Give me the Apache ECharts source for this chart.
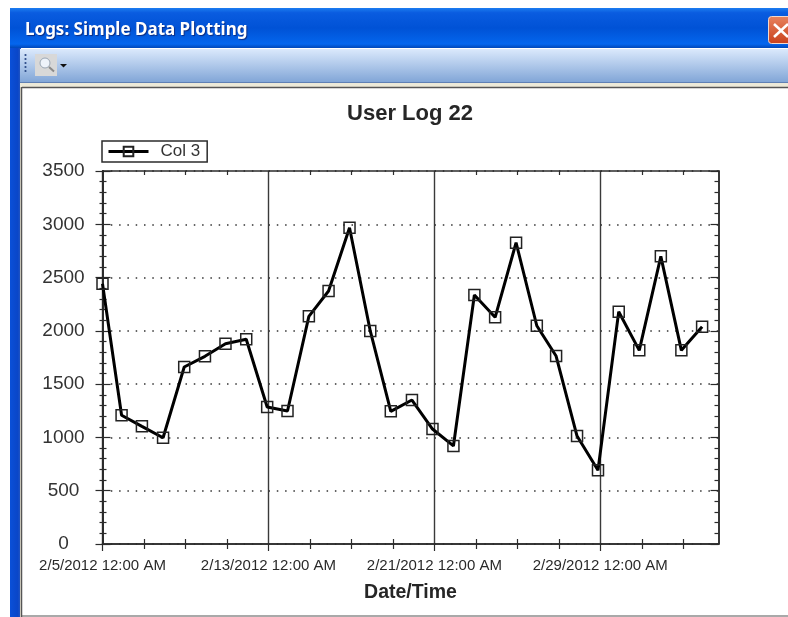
<!DOCTYPE html>
<html><head><meta charset="utf-8">
<style>html,body{margin:0;padding:0;background:#fff}#c{width:788px;height:617px}</style>
<script src="https://cdn.jsdelivr.net/npm/echarts@6/dist/echarts.min.js"></script>
</head><body><div id="c"></div>
<script>
const chartTitle = 'User Log 22';
const windowTitle = 'Logs: Simple Data Plotting';
const seriesName = 'Col 3';
const xName = 'Date/Time';
const xTickLabels = ['2/5/2012 12:00 AM','2/13/2012 12:00 AM','2/21/2012 12:00 AM','2/29/2012 12:00 AM'];
const xMajorTicks = [0,8,16,24];
const xMinorTicks = [2,4,6,10,12,14,18,20,22,26,28];
const yMinorTicks = [100,200,300,400,600,700,800,900,1100,1200,1300,1400,1600,1700,1800,1900,2100,2200,2300,2400,2600,2700,2800,2900,3100,3200,3300,3400];
const dayOffsets = [0,0.92,1.90,2.92,3.94,4.94,5.93,6.93,7.94,8.92,9.95,10.90,11.91,12.91,13.90,14.92,15.91,16.92,17.93,18.93,19.94,20.94,21.87,22.88,23.89,24.89,25.88,26.92,27.91,28.91];
const values = [2442,1208,1104,997,1661,1761,1879,1921,1285,1248,2136,2374,2968,1999,1245,1351,1079,920,2336,2127,2827,2048,1764,1013,692,2180,1817,2699,1817,2039];
const xMax = 29.7, yMax = 3500;
const ink = '#2b2b2b';

const chart = echarts.init(document.getElementById('c'), null, {renderer:'canvas'});
const vGrad = (a,b)=>({type:'linear',x:0,y:0,x2:0,y2:1,colorStops:[{offset:0,color:a},{offset:1,color:b}]});
const tickStyle = {color:ink,width:1.2};
const xBase = {type:'value',min:0,max:xMax,interval:8,
  axisLine:{show:true,onZero:false,lineStyle:{color:ink,width:1.5}},splitLine:{show:false},axisLabel:{show:false}};
const yBase = {type:'value',min:0,max:yMax,interval:500,
  axisLine:{show:true,onZero:false,lineStyle:{color:ink,width:1.5}},splitLine:{show:false},axisLabel:{show:false}};
const innerTicks = (len,vals)=>({axisTick:{show:true,inside:true,length:len,lineStyle:tickStyle,customValues:vals}});

chart.setOption({
  animation:false,
  backgroundColor:'#fff',
  textStyle:{fontFamily:'Liberation Sans'},
  title:{text:chartTitle,left:410,top:103,textAlign:'center',padding:0,
    textStyle:{fontFamily:'Liberation Sans',fontSize:22,fontWeight:'bold',color:'#262626'}},
  legend:{left:102,top:141,orient:'horizontal',padding:[2,7,2,5],itemGap:0,itemWidth:40,itemHeight:12,
    borderColor:ink,borderWidth:1.5,backgroundColor:'#fff',
    lineStyle:{color:'#000',width:3},
    textStyle:{fontFamily:'Liberation Sans',fontSize:17,color:'#333',padding:[0,0,0,7]},
    data:[seriesName]},
  grid:{left:102.5,top:171,width:616,height:373,containLabel:false},
  xAxis:[
    Object.assign({},xBase,{position:'bottom',
      axisTick:{show:true,inside:false,length:7,lineStyle:tickStyle,customValues:xMajorTicks},
      minorTick:{show:true,splitNumber:4,length:5,lineStyle:tickStyle},
      splitLine:{show:true,lineStyle:{color:'#3a3a3a',width:1.4,type:'solid'}},
      axisLabel:{show:true,margin:14,fontSize:15,color:'#2a2a2a',
        fontFamily:'Liberation Sans',customValues:xMajorTicks,
        formatter:v=>xTickLabels[Math.round(v/8)]||''},
      name:xName,nameLocation:'center',nameGap:39,
      nameTextStyle:{fontFamily:'Liberation Sans',fontSize:19.5,fontWeight:'bold',color:'#262626'}}),
    Object.assign({},xBase,{position:'bottom'},innerTicks(5,xMinorTicks)),
    Object.assign({},xBase,{position:'top'},innerTicks(4,xMinorTicks))
  ],
  yAxis:[
    Object.assign({},yBase,{position:'left',
      axisTick:{show:true,inside:false,length:7,lineStyle:tickStyle},
      minorTick:{show:true,splitNumber:5,length:3,lineStyle:tickStyle},
      splitLine:{show:true,lineStyle:{color:'#333',width:1.5,type:[1.5,6.8]}},
      axisLabel:{show:true,margin:39,align:'center',fontSize:19,color:'#333',fontFamily:'Liberation Sans',
        formatter:v=>String(v)}}),
    Object.assign({},yBase,{position:'left',axisTick:{show:true,inside:true,length:8,lineStyle:tickStyle}}),
    Object.assign({},yBase,{position:'left'},innerTicks(4,yMinorTicks)),
    Object.assign({},yBase,{position:'right',axisTick:{show:true,inside:true,length:8,lineStyle:tickStyle}}),
    Object.assign({},yBase,{position:'right'},innerTicks(4,yMinorTicks))
  ],
  series:[{name:seriesName,type:'line',xAxisIndex:0,yAxisIndex:0,
    data:dayOffsets.map((d,i)=>[d,values[i]]),
    symbol:'rect',symbolSize:11,showSymbol:true,
    lineStyle:{color:'#000',width:3},
    itemStyle:{color:'transparent',borderColor:'#222',borderWidth:1.5},
    z:5}],
  graphic:[
    {type:'rect',silent:true,z:-5,shape:{x:10,y:8,width:778,height:40},style:{fill:{type:'linear',x:0,y:0,x2:0,y2:1,colorStops:[{offset:0,color:'#1c7cf0'},{offset:0.12,color:'#0a5ce0'},{offset:0.5,color:'#0052d6'},{offset:0.9,color:'#0466ee'},{offset:1,color:'#0047b8'}]}}},
    {type:'rect',silent:true,z:-5,shape:{x:10,y:48,width:11,height:569},style:{fill:{type:'linear',x:0,y:0,x2:1,y2:0,colorStops:[{offset:0,color:'#0a50d8'},{offset:0.7,color:'#0a46c8'},{offset:1,color:'#2a5ac0'}]}}},
    {type:'rect',silent:true,z:-5,shape:{x:20,y:49,width:768,height:34},style:{fill:vGrad('#dbe9fc','#7fa4d6')}},
    {type:'rect',silent:true,z:-5,shape:{x:20,y:82,width:768,height:1.5},style:{fill:'#5f80b4'}},
    {type:'rect',silent:true,z:-5,shape:{x:20,y:83,width:768,height:4},style:{fill:'#ece9d8'}},
    {type:'rect',silent:true,z:-5,shape:{x:20,y:83,width:2,height:534},style:{fill:'#ece9d8'}},
    {type:'line',silent:true,z:-4,shape:{x1:22,y1:87.5,x2:788,y2:87.5},style:{stroke:'#555',lineWidth:1.5}},
    {type:'line',silent:true,z:-4,shape:{x1:21.5,y1:87,x2:21.5,y2:617},style:{stroke:'#555',lineWidth:1.5}},
    {type:'line',silent:true,z:-4,shape:{x1:22,y1:616,x2:788,y2:616},style:{stroke:'#555',lineWidth:1.2}},
    {type:'text',silent:true,z:-3,x:25,y:22,style:{text:windowTitle,fill:'#fff',fontFamily:'Noto Sans',fontWeight:'bold',fontSize:17,textShadowColor:'#0a2a80',textShadowBlur:1,textShadowOffsetX:1,textShadowOffsetY:1}},
    {type:'rect',silent:true,z:-3,shape:{x:768.5,y:16.5,width:24,height:27,r:3},style:{fill:vGrad('#e8835f','#c8401c'),stroke:'#f2d8cc',lineWidth:1}},
    {type:'polyline',silent:true,z:-2,shape:{points:[[774,24],[788,37]]},style:{stroke:'#fff',lineWidth:2.6,fill:null}},
    {type:'polyline',silent:true,z:-2,shape:{points:[[788,24],[774,37]]},style:{stroke:'#fff',lineWidth:2.6,fill:null}},
    ...[55,59,63,67,71].map(y=>({type:'circle',silent:true,z:-3,shape:{cx:25.5,cy:y,r:1.1},style:{fill:'#2a4a86'}})),
    {type:'rect',silent:true,z:-3,shape:{x:35,y:54,width:22,height:22},style:{fill:'#d8d8d8'}},
    {type:'circle',silent:true,z:-2,shape:{cx:45,cy:63,r:5},style:{fill:'#eef3fa',stroke:'#9aa6b4',lineWidth:1}},
    {type:'line',silent:true,z:-2,shape:{x1:49,y1:67,x2:54,y2:71.5},style:{stroke:'#8a8a8a',lineWidth:2}},
    {type:'polygon',silent:true,z:-3,shape:{points:[[60,64],[67,64],[63.5,67.5]]},style:{fill:'#111'}}
  ]
});
</script></body></html>
